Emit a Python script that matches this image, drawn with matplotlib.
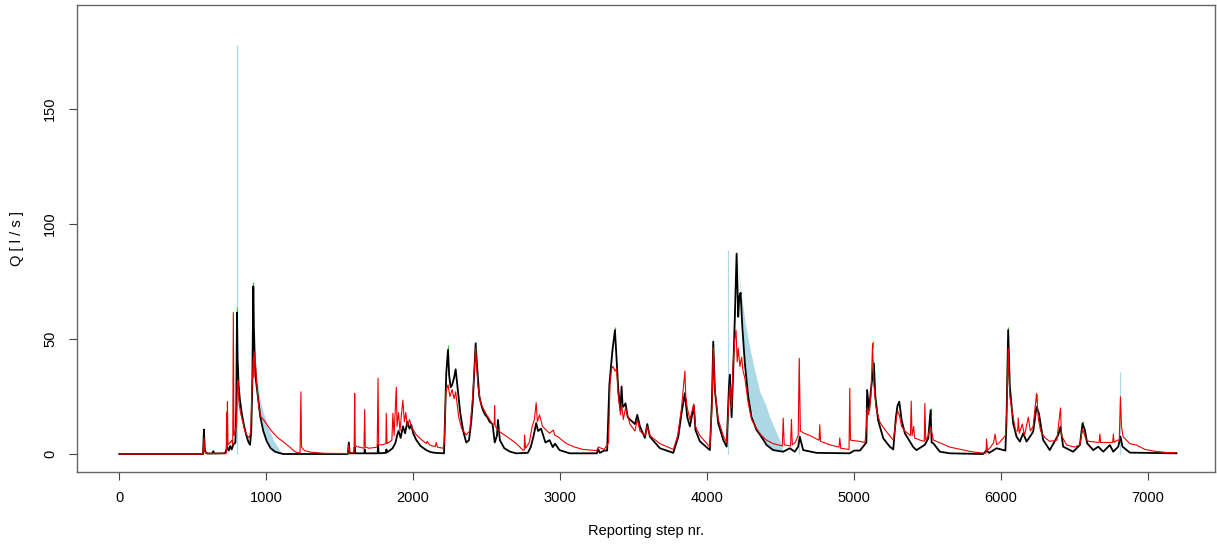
import matplotlib
matplotlib.use("Agg")
import matplotlib.pyplot as plt

obs = [
    (0, 0), (570, 0), (576, 10.6), (582, 2), (590, 0.5), (600, 0.2), (635, 0.2), (640, 1.2), (646, 0.2),
    (720, 0.3), (735, 3), (745, 1.5), (755, 3.5), (765, 2), (775, 4), (790, 5), (796, 20), (801, 61.4),
    (805, 42), (812, 30), (820, 24), (835, 17), (850, 12), (865, 8), (880, 5), (890, 4), (898, 10),
    (905, 30), (912, 72.8), (916, 55), (922, 40), (930, 32), (945, 24), (960, 16), (980, 10), (1003, 5.6),
    (1030, 2.5), (1060, 1), (1090, 0.4), (1116, 0), (1555, 0), (1562, 5), (1568, 0.3), (1598, 0.3),
    (1602, 3), (1606, 0.3), (1668, 0.3), (1670, 2), (1675, 0.3), (1758, 0.3), (1761, 4), (1765, 0.3),
    (1815, 0.5), (1817, 2), (1825, 0.8), (1860, 2.5), (1880, 5), (1890, 8), (1900, 10), (1915, 7),
    (1930, 12), (1945, 9), (1960, 14), (1975, 11), (1987, 12.6), (2000, 9), (2021, 6.1), (2050, 3.5),
    (2089, 1.7), (2120, 0.8), (2150, 0.5), (2210, 0.3), (2214, 10), (2225, 35), (2237, 45.2), (2245, 34),
    (2255, 29), (2265, 30), (2278, 33), (2289, 36.8), (2300, 30), (2320, 18), (2340, 10), (2361, 5),
    (2380, 6), (2395, 14), (2405, 22), (2415, 35), (2425, 48), (2435, 38), (2450, 25), (2465, 21),
    (2475, 19), (2490, 17), (2505, 16), (2520, 14), (2540, 13), (2555, 5), (2570, 8), (2577, 14.8),
    (2590, 6), (2620, 2.5), (2660, 1), (2700, 0.3), (2780, 0.5), (2800, 3), (2820, 8), (2837, 13.4),
    (2850, 10), (2870, 11), (2900, 5), (2928, 6), (2950, 3), (2965, 4.5), (2996, 1.7), (3064, 0.3),
    (3250, 0.3), (3260, 2), (3270, 0.5), (3300, 1.5), (3320, 1.5), (3335, 30), (3356, 45), (3373, 53.8),
    (3384, 41), (3396, 27.8), (3411, 19), (3418, 29.3), (3425, 21), (3430, 20.5), (3445, 22), (3460, 16),
    (3475, 15), (3509, 13), (3525, 17), (3543, 12), (3577, 7), (3593, 13), (3611, 7.5), (3679, 2.5),
    (3770, 0.5), (3804, 7.5), (3826, 17.7), (3849, 26.4), (3865, 16), (3883, 12), (3910, 21), (3921, 10.4),
    (3951, 5.5), (4019, 1.7), (4033, 23), (4042, 48.8), (4053, 27.8), (4076, 13.3), (4110, 6.1),
    (4133, 3.2), (4149, 29.3), (4155, 34.4), (4167, 16), (4178, 36.5), (4189, 59.6), (4201, 87),
    (4212, 59.6), (4219, 68.3), (4228, 70), (4240, 55), (4257, 39.4), (4280, 25), (4303, 16), (4337, 10.4),
    (4370, 7.5), (4405, 3.9), (4450, 1.7), (4518, 1), (4563, 2.5), (4597, 1), (4620, 3.2), (4631, 7.5),
    (4654, 1.7), (4745, 0.5), (4971, 0.3), (5000, 1.5), (5040, 1.5), (5084, 5), (5089, 27.8), (5103, 19),
    (5115, 28), (5126, 33.6), (5135, 39.4), (5145, 25), (5164, 14.6), (5199, 6.8), (5243, 3.2), (5267, 2),
    (5285, 16), (5296, 21), (5308, 22.7), (5324, 14.7), (5346, 9), (5380, 5.4), (5403, 3), (5425, 1.7),
    (5482, 4), (5505, 6.8), (5521, 19), (5528, 5), (5539, 4.7), (5584, 1), (5652, 0.3), (5879, 0),
    (5900, 1.5), (5920, 0.5), (5970, 2.5), (6030, 1.5), (6037, 13), (6049, 53.8), (6060, 29.5),
    (6083, 13.3), (6106, 7.5), (6129, 5.4), (6151, 9), (6174, 5.4), (6197, 7.5), (6219, 9.7), (6242, 20.5),
    (6258, 17.7), (6287, 6.1), (6332, 1.7), (6389, 8.2), (6405, 11.8), (6423, 3.2), (6491, 1), (6537, 3.9),
    (6555, 13.3), (6571, 10.4), (6587, 4.6), (6628, 1.7), (6662, 3.2), (6696, 1), (6741, 3.9), (6764, 1),
    (6798, 3.2), (6813, 7.5), (6827, 3.2), (6877, 0.6), (7194, 0.3),
]

# simulated discharge (red)
sim = [
    (0, 0), (570, 0), (576, 7), (582, 1), (590, 0.3), (728, 0.3), (730, 18.2), (733, 3), (736, 22.7),
    (740, 4), (755, 5), (765, 6), (772, 4), (776, 61.4), (780, 8), (790, 10), (798, 14), (803, 30),
    (808, 32), (815, 22), (825, 18), (840, 14), (855, 10), (870, 8), (885, 7), (895, 10), (903, 28),
    (908, 36), (912, 42), (916, 33), (922, 44.7), (928, 38), (938, 28), (950, 20), (965, 16), (980, 15.1),
    (1003, 12.9), (1030, 10.5), (1049, 9.1), (1080, 7), (1116, 5.3), (1140, 4), (1161, 3), (1185, 1.5),
    (1207, 0.7), (1230, 0.5), (1236, 27), (1240, 3), (1260, 1.5), (1300, 0.8), (1400, 0.3), (1555, 0.2),
    (1562, 4), (1568, 0.5), (1598, 0.5), (1602, 26.3), (1606, 3.5), (1620, 3.2), (1665, 2.5), (1670, 19.4),
    (1674, 3), (1700, 2.5), (1755, 3), (1761, 32.9), (1765, 4), (1790, 4), (1814, 4.5), (1817, 17.7),
    (1822, 4.5), (1855, 6), (1862, 17.7), (1870, 8), (1885, 29), (1890, 12), (1900, 18), (1910, 10),
    (1920, 17), (1930, 23.4), (1940, 14), (1950, 18), (1960, 12), (1975, 15), (1987, 11.9), (2021, 8.3),
    (2060, 6), (2089, 4.6), (2095, 5.5), (2112, 3.9), (2150, 3.2), (2157, 5), (2165, 3), (2203, 2.5),
    (2212, 5), (2222, 27), (2237, 30), (2250, 25), (2265, 28), (2278, 24), (2289, 27), (2310, 16),
    (2330, 11), (2361, 8.3), (2385, 10), (2405, 25), (2425, 46), (2440, 30), (2460, 22), (2475, 20),
    (2500, 17), (2520, 15), (2540, 13), (2552, 13), (2554, 21), (2558, 12), (2588, 9.7), (2650, 7),
    (2701, 4.6), (2747, 1.7), (2756, 1.7), (2758, 8.3), (2765, 2.5), (2790, 5), (2810, 12), (2825, 15),
    (2837, 22.3), (2845, 14), (2860, 17), (2880, 12), (2928, 9), (2954, 10.4), (2962, 8.3), (2985, 7.5),
    (3041, 4.6), (3100, 3), (3154, 2), (3248, 1.5), (3260, 3), (3300, 2), (3330, 5), (3339, 30), (3350, 37),
    (3360, 38), (3373, 36), (3384, 37), (3396, 25), (3411, 17), (3418, 22), (3430, 15), (3445, 20),
    (3475, 13), (3509, 10), (3525, 15), (3543, 10), (3577, 8), (3593, 12), (3611, 8), (3679, 4.5),
    (3770, 2), (3800, 8), (3826, 20), (3849, 36), (3855, 25), (3865, 20), (3883, 15), (3910, 21.7),
    (3921, 12), (3951, 8), (4019, 3), (4033, 20), (4042, 46.3), (4053, 28), (4076, 15), (4110, 8),
    (4133, 5), (4149, 25), (4155, 30), (4167, 20), (4178, 40), (4189, 50), (4197, 53.8), (4205, 40),
    (4212, 46), (4223, 38), (4235, 42), (4245, 36), (4257, 33), (4280, 22), (4303, 15), (4337, 11),
    (4370, 8), (4405, 6), (4450, 4.5), (4512, 3.5), (4518, 15.6), (4525, 4), (4568, 3.5), (4574, 15),
    (4580, 4), (4600, 5), (4620, 8), (4627, 41.5), (4635, 10), (4660, 9), (4700, 8), (4762, 6),
    (4767, 12.7), (4772, 5.5), (4835, 4), (4898, 3), (4903, 7), (4910, 2.5), (4966, 2), (4971, 28.5),
    (4976, 6), (5039, 5.5), (5075, 5), (5084, 12), (5089, 20), (5100, 17), (5115, 25), (5126, 48),
    (5135, 30), (5150, 20), (5175, 14), (5199, 11.5), (5267, 6), (5285, 14), (5296, 18.8), (5308, 17),
    (5324, 12), (5346, 10), (5384, 8), (5389, 23), (5395, 8), (5406, 12), (5412, 7), (5450, 6),
    (5478, 5.5), (5482, 22), (5488, 6), (5505, 8), (5521, 12), (5539, 6.1), (5652, 3), (5800, 1),
    (5879, 0.4), (5898, 0.4), (5902, 6.5), (5908, 1.5), (5930, 3), (5950, 5), (5960, 8.7), (5970, 4),
    (5990, 5), (6030, 8), (6040, 20), (6049, 46), (6060, 25), (6083, 16), (6100, 10), (6114, 10),
    (6117, 15.6), (6125, 9), (6145, 13), (6160, 8), (6186, 16), (6200, 10), (6219, 12), (6242, 26.3),
    (6255, 15), (6270, 10), (6300, 7), (6332, 5.5), (6380, 6), (6405, 20), (6412, 8), (6446, 4),
    (6500, 3), (6537, 4), (6555, 11), (6565, 9), (6580, 6), (6600, 5.5), (6668, 5), (6673, 8.7),
    (6678, 5), (6720, 5), (6760, 5), (6765, 8.7), (6770, 5), (6790, 6), (6805, 6), (6813, 24.9),
    (6820, 12), (6831, 7.5), (6877, 4.5), (6922, 3.9), (6980, 2), (7036, 1.3), (7120, 0.7), (7194, 0.6),
]

# uncertainty band (light blue): step, lower, upper
band_steps = [0, 900, 905, 912, 925, 940, 957, 980, 1003, 1030, 1049, 1075, 1094, 1116, 1130,
              4180, 4185, 4201, 4228, 4257, 4291, 4325, 4359, 4395, 4427, 4460, 4495, 4520, 4530, 7194]
band_lo = [0, 0, 30, 72, 36, 25, 18, 11, 5.6, 2.5, 1.5, 0.8, 0.4, 0.1, 0,
           0, 50, 87, 70, 39, 22, 12, 7.5, 4.5, 3, 1.7, 1.2, 1, 0, 0]
band_hi = [0, 0, 30, 74, 42, 32, 24, 18, 13.6, 9, 6, 3.5, 1.4, 0.3, 0,
           0, 55, 88, 72, 58, 46, 36, 27, 22, 16, 11, 6, 1, 0, 0]

# single-step upper-bound spikes of the band
band_spike_steps = [801, 4144, 4627, 6813]
band_spike_tops = [177.7, 88.6, 41.5, 35.7]

# green line, only its peak tips show above the black one
green_steps = [801, 912, 1880, 2237, 2425, 3373, 5126, 5521, 6049, 6242, 6555]
green_lo = [61.4, 72.8, 22, 45.2, 48, 53.8, 46, 17, 53.8, 22, 13.3]
green_tops = [63.7, 74.6, 27.5, 47.4, 48.5, 55, 49, 20, 55, 26, 14.5]


def main():
    plt.rcParams['font.family'] = ['Liberation Sans', 'DejaVu Sans']
    fig = plt.figure(figsize=(12.17, 5.47), dpi=100)
    ax = fig.add_axes([0.063, 0.138, 0.9353, 0.853])

    ax.fill_between(band_steps, band_lo, band_hi, color='#add8e6', linewidth=0)
    ax.vlines(band_spike_steps, 0, band_spike_tops, color='#add8e6', linewidth=0.9)
    ax.vlines(green_steps, green_lo, green_tops, color='#33cc33', linewidth=0.9)
    ax.plot([p[0] for p in obs], [p[1] for p in obs], color='black', linewidth=1.3)
    ax.plot([p[0] for p in sim], [p[1] for p in sim], color='#ee0000', linewidth=0.8)

    ax.set_xlim(-290, 7456)
    ax.set_ylim(-7.6, 195)
    ax.set_xticks(range(0, 7001, 1000))
    ax.set_yticks([0, 50, 100, 150])
    ax.tick_params(axis='both', length=6, width=0.8, color='#444444', labelsize=10.5, pad=8)
    for label in ax.get_yticklabels():
        label.set_rotation(90)
        label.set_va('center')
    for side in ['top', 'bottom', 'left', 'right']:
        ax.spines[side].set_color('#666666')
        ax.spines[side].set_linewidth(1.0)

    ax.set_xlabel('Reporting step nr.', fontsize=10.5, labelpad=14)
    ax.set_ylabel('Q [ l / s ]', fontsize=10.5, labelpad=14)

    fig.savefig('out.png', dpi=100)


if __name__ == '__main__':
    main()
